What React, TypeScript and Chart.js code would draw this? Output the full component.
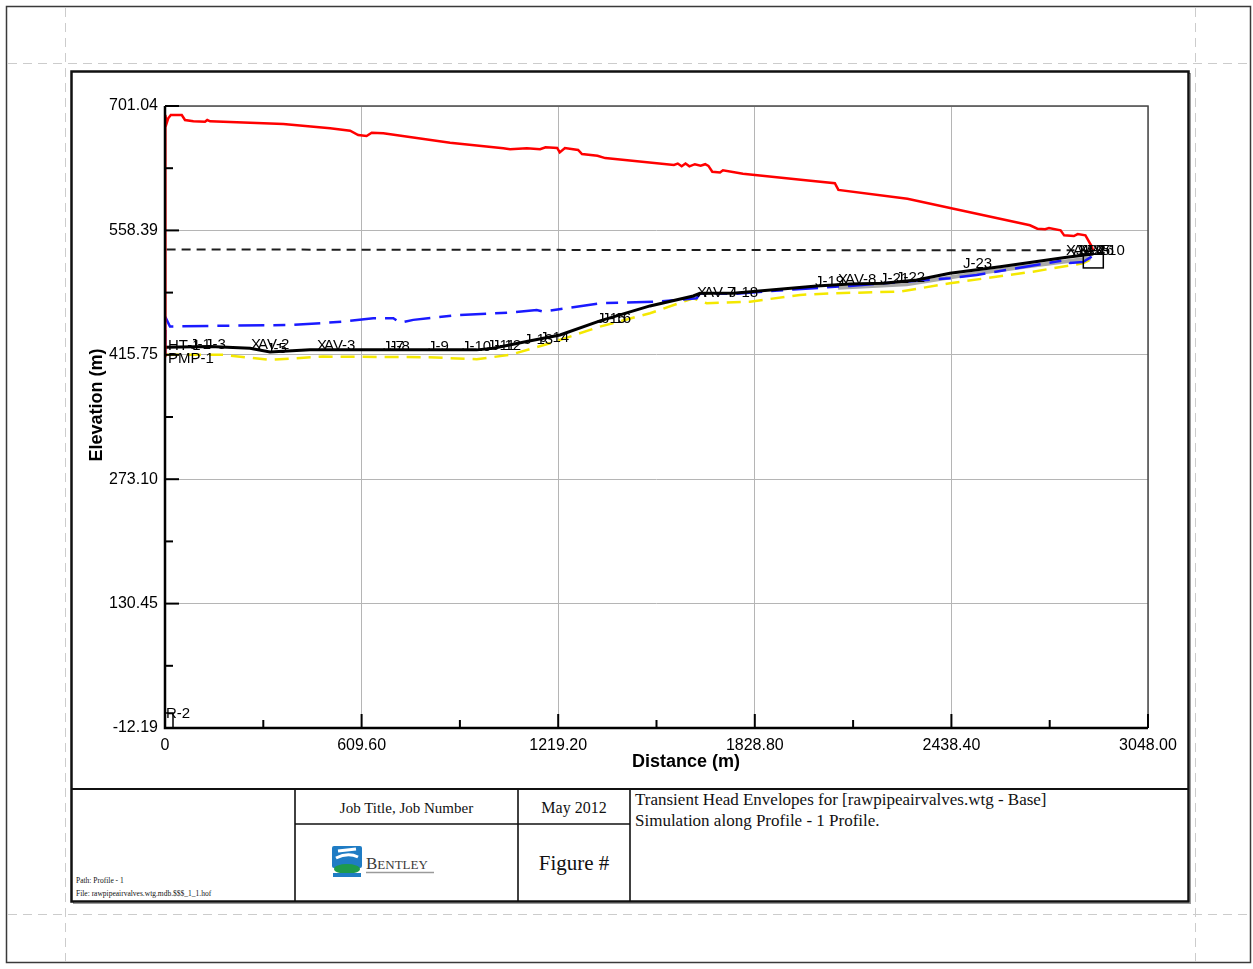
import React, { useEffect, useRef } from 'react';
import { Chart, registerables } from 'chart.js';

Chart.register(...registerables);

const SANS = '"Liberation Sans", Arial, Helvetica, sans-serif';
const SERIF = '"Liberation Serif", "Times New Roman", Times, serif';

// Axis ticks
const yTickValues = [-12.19, 130.45, 273.1, 415.75, 558.39, 701.04];
const yTickLabels = ['-12.19', '130.45', '273.10', '415.75', '558.39', '701.04'];
const xTickValues = [0, 609.6, 1219.2, 1828.8, 2438.4, 3048];
const xTickLabels = ['0', '609.60', '1219.20', '1828.80', '2438.40', '3048.00'];

// Maximum transient head (red)
const maxHeadDistance = [0, 1, 5, 10, 18, 52, 62, 88, 124, 131, 140, 367, 512, 574, 599, 625, 641, 677, 884, 1049, 1070, 1122, 1163, 1180, 1216, 1224, 1240, 1281, 1293, 1341, 1365, 1578, 1590, 1602, 1614, 1626, 1643, 1661, 1675, 1685, 1697, 1721, 1730, 1792, 1994, 2077, 2088, 2302, 2438, 2682, 2705, 2729, 2741, 2777, 2788, 2818, 2830, 2854, 2872, 2878];
const maxHeadValue = [414.5, 690.7, 681.2, 686.9, 690.7, 690.7, 685.0, 683.5, 683.0, 685.0, 683.5, 680.4, 675.5, 672.7, 667.8, 666.7, 670.4, 669.7, 659.0, 652.5, 651.4, 652.5, 651.4, 653.7, 652.9, 647.9, 652.9, 650.6, 645.9, 644.0, 641.3, 633.5, 635.0, 631.9, 635.0, 631.9, 634.3, 632.7, 634.3, 632.4, 625.7, 624.9, 627.3, 623.4, 615.6, 612.5, 604.8, 594.6, 583.8, 564.3, 560.4, 559.7, 561.2, 558.5, 552.7, 551.9, 554.2, 552.7, 541.0, 535.5];

// Pipe profile (black)
const profileDistance = [0, 46.5, 139.5, 263.6, 325.6, 449.6, 604.6, 966.5, 1018, 1121.5, 1224.8, 1348.8, 1503.8, 1638, 1658.9, 1762.1, 1824.1, 2020.7, 2124, 2227.2, 2330.8, 2434, 2589.1, 2795.9, 2878.4];
const profileElevation = [424.5, 424.8, 425.2, 423.3, 419.1, 421.4, 421.4, 421.4, 423.3, 430.9, 438.5, 454.6, 471.8, 483.2, 486.3, 486.3, 488.2, 494.7, 497.0, 497.8, 501.6, 509.3, 516.8, 527.6, 531.4];

// Minimum transient head (blue)
const minHeadDistance = [0, 1, 5.3, 15.5, 139.5, 397.8, 552.9, 645.9, 707.9, 728.7, 769.9, 914.7, 1069.7, 1152.5, 1173, 1348.8, 1524.6, 1648.6, 1658.9, 1762.1, 1947.2, 2124, 2361.8, 2434, 2516.8, 2795.9, 2806, 2846.4, 2873.4];
const minHeadValue = [414.5, 448.5, 455.8, 448.1, 448.9, 450.0, 453.8, 457.7, 457.7, 452.6, 455.8, 461.5, 464.1, 467.2, 465.2, 474.9, 476.7, 480.6, 486.3, 485.5, 490.7, 494.7, 501.6, 503.5, 507.3, 524.5, 521.1, 522.2, 528.3];

// Lower envelope (yellow)
const lowerDistance = [0, 5.3, 180.8, 325.6, 489.9, 811.4, 966.5, 1069.7, 1193.8, 1348.8, 1503.8, 1638, 1679.6, 1813.9, 1968.9, 2072.2, 2279, 2434, 2691.4, 2846.4, 2868];
const lowerValue = [415.7, 415.7, 415.7, 409.9, 413.7, 413.0, 410.7, 415.7, 429.0, 448.1, 463.4, 480.6, 474.9, 476.7, 484.4, 486.3, 488.2, 497.8, 511.1, 520.7, 524.5];

// Initial steady-state HGL (dashed black)
const initialDistance = [5, 2820];
const initialHead = [536.5, 535.5];

// Grey pipe shading along the last reach
const shadeDistance = [2087, 2300, 2500, 2700, 2870];
const shadeElevation = [492.5, 496.5, 508.5, 518.5, 526.5];

// Node labels along the profile
const nodeNames = ['HT-1', 'PMP-1', 'J-1', 'J-3', 'AV-2', 'J-5', 'AV-3', 'J-7', 'J-8', 'J-9', 'J-10', 'J-11', 'J-12', 'J-13', 'J-14', 'J-15', 'J-16', 'AV-7', 'J-18', 'J-19', 'AV-8', 'J-21', 'J-22', 'J-23', 'AV-9', 'J-24', 'J-25', 'J-26', 'AV-10', 'R-2'];
const nodeDistances = [9.3, 9.3, 77.5, 124, 266.7, 313.2, 471.3, 676, 694.6, 815.5, 920.9, 998.4, 1013.9, 1113.2, 1162.8, 1339.5, 1355, 1649.6, 1748.8, 2015.5, 2086.8, 2217, 2266.6, 2474.4, 2793.7, 2824.7, 2840.2, 2852.6, 2830.9, 3.1];
const nodeElevations = [421.4, 406.5, 422.5, 422.5, 422.5, 417.9, 421.4, 420.2, 420.2, 420.2, 420.2, 421.4, 421.4, 428.2, 430.5, 452.3, 452.3, 482.1, 482.1, 494.7, 497.0, 498.2, 499.3, 515.4, 530.0, 530.0, 530.0, 530.0, 530.0, -0.4];

function pairs(xs: number[], ys: number[]) {
  return xs.map((x, i) => ({ x, y: ys[i] }));
}

function labelFor(values: number[], labels: string[], v: number) {
  const i = values.findIndex((t) => Math.abs(t - v) < 1e-6);
  return i >= 0 ? labels[i] : '';
}

const profileDecor = {
  id: 'profileDecor',
  afterDraw(chart: any) {
    const { ctx, chartArea: a, scales } = chart;
    const xs = scales.x;
    const ys = scales.y;
    const seg = (x1: number, y1: number, x2: number, y2: number) => {
      ctx.beginPath();
      ctx.moveTo(x1, y1);
      ctx.lineTo(x2, y2);
      ctx.stroke();
    };
    ctx.save();

    // plot frame
    ctx.strokeStyle = '#4a4a4a';
    ctx.lineWidth = 1.5;
    ctx.beginPath();
    ctx.moveTo(a.left, a.top);
    ctx.lineTo(a.right, a.top);
    ctx.lineTo(a.right, a.bottom);
    ctx.stroke();

    ctx.strokeStyle = '#000';
    ctx.lineWidth = 2.5;
    ctx.beginPath();
    ctx.moveTo(a.left, a.top);
    ctx.lineTo(a.left, a.bottom);
    ctx.lineTo(a.right, a.bottom);
    ctx.stroke();

    // inward tick marks, major and minor
    ctx.lineWidth = 2;
    yTickValues.forEach((v, i) => {
      const py = ys.getPixelForValue(v);
      seg(a.left, py, a.left + 14, py);
      if (i < yTickValues.length - 1) {
        const pm = ys.getPixelForValue((v + yTickValues[i + 1]) / 2);
        seg(a.left, pm, a.left + 8, pm);
      }
    });
    xTickValues.forEach((v, i) => {
      const px = xs.getPixelForValue(v);
      seg(px, a.bottom, px, a.bottom - 14);
      if (i < xTickValues.length - 1) {
        const pm = xs.getPixelForValue((v + xTickValues[i + 1]) / 2);
        seg(pm, a.bottom, pm, a.bottom - 8);
      }
    });

    // axis titles
    ctx.fillStyle = '#000';
    ctx.font = `bold 18px ${SANS}`;
    ctx.textAlign = 'center';
    ctx.textBaseline = 'middle';
    ctx.fillText('Distance (m)', 614, 690);
    ctx.save();
    ctx.translate(25, 333);
    ctx.rotate(-Math.PI / 2);
    ctx.fillText('Elevation (m)', 0, 0);
    ctx.restore();

    // node labels
    ctx.font = `15px ${SANS}`;
    ctx.textAlign = 'left';
    ctx.textBaseline = 'alphabetic';
    nodeNames.forEach((name, i) => {
      const px = xs.getPixelForValue(nodeDistances[i]);
      const py = ys.getPixelForValue(nodeElevations[i]);
      if (name.startsWith('AV')) {
        ctx.fillText('X', px, py);
        ctx.fillText(name, px + 7, py);
      } else {
        ctx.fillText(name, px, py);
      }
    });

    // tank symbol at the downstream end
    ctx.lineWidth = 1.5;
    const endX = xs.getPixelForValue(profileDistance[profileDistance.length - 1]);
    const endY = ys.getPixelForValue(profileElevation[profileElevation.length - 1]);
    ctx.strokeRect(endX - 10, endY, 20, 14);

    // reservoir symbol at the start
    const resX = xs.getPixelForValue(0);
    ctx.strokeRect(resX, a.bottom - 15, 8, 15);

    ctx.restore();
  },
};

export default function App() {
  const canvasRef = useRef<HTMLCanvasElement>(null);

  useEffect(() => {
    const canvas = canvasRef.current;
    if (!canvas) return;
    const tickFont = { family: SANS, size: 16 };
    const chart = new Chart(canvas, {
      type: 'line',
      data: {
        datasets: [
          { label: 'Maximum Head', data: pairs(maxHeadDistance, maxHeadValue), borderColor: '#ff0000', borderWidth: 2.5 },
          { label: 'Elevation', data: pairs(profileDistance, profileElevation), borderColor: '#000000', borderWidth: 3 },
          { label: 'Minimum Head', data: pairs(minHeadDistance, minHeadValue), borderColor: '#1a1aff', borderWidth: 2.5, borderDash: [26, 9, 12, 9] },
          { label: 'Lower Envelope', data: pairs(lowerDistance, lowerValue), borderColor: '#f4e800', borderWidth: 2.5, borderDash: [14, 8] },
          { label: 'Initial HGL', data: pairs(initialDistance, initialHead), borderColor: '#1e1e1e', borderWidth: 2, borderDash: [9, 6] },
          { label: 'Pipe', data: pairs(shadeDistance, shadeElevation), borderColor: '#a9a9a9', borderWidth: 4 },
        ],
      },
      options: {
        responsive: false,
        animation: false,
        events: [],
        elements: { point: { radius: 0 }, line: { tension: 0, fill: false } },
        layout: { padding: { top: 34, right: 42, left: 0, bottom: 0 } },
        plugins: { legend: { display: false }, tooltip: { enabled: false }, title: { display: false } },
        scales: {
          x: {
            type: 'linear',
            min: 0,
            max: 3048,
            afterBuildTicks: (s: any) => {
              s.ticks = xTickValues.map((v) => ({ value: v }));
            },
            afterFit: (s: any) => {
              s.height = 60;
            },
            ticks: {
              autoSkip: false,
              maxRotation: 0,
              minRotation: 0,
              padding: 8,
              color: '#000',
              font: tickFont,
              callback: (v: any) => labelFor(xTickValues, xTickLabels, Number(v)),
            },
            grid: { color: '#b5b5b5', lineWidth: 1, drawTicks: false },
            border: { display: false },
          },
          y: {
            type: 'linear',
            min: -12.19,
            max: 701.04,
            afterBuildTicks: (s: any) => {
              s.ticks = yTickValues.map((v) => ({ value: v }));
            },
            afterFit: (s: any) => {
              s.width = 93;
            },
            ticks: {
              autoSkip: false,
              padding: 7,
              color: '#000',
              font: tickFont,
              callback: (v: any) => labelFor(yTickValues, yTickLabels, Number(v)),
            },
            grid: { color: '#b5b5b5', lineWidth: 1, drawTicks: false },
            border: { display: false },
          },
        },
      },
      plugins: [profileDecor],
    } as any);
    return () => chart.destroy();
  }, []);

  return (
    <div style={{ position: 'absolute', left: 0, top: 0, width: 1253, height: 969, background: '#fff', overflow: 'hidden' }}>
      <svg width={1253} height={969} style={{ position: 'absolute', left: 0, top: 0 }}>
        {/* sheet border and trim guides */}
        <rect x={6.5} y={6.5} width={1244} height={956} fill="none" stroke="#3a3a3a" strokeWidth={1.5} />
        <line x1={65.5} y1={8} x2={65.5} y2={962} stroke="#cccccc" strokeWidth={1} strokeDasharray="9 6" />
        <line x1={1195.5} y1={8} x2={1195.5} y2={962} stroke="#cccccc" strokeWidth={1} strokeDasharray="9 6" />
        <line x1={8} y1={63.5} x2={1250} y2={63.5} stroke="#cccccc" strokeWidth={1} strokeDasharray="9 6" />
        <line x1={8} y1={914.5} x2={1250} y2={914.5} stroke="#cccccc" strokeWidth={1} strokeDasharray="9 6" />

        {/* drawing frame */}
        <rect x={73.5} y={73.5} width={1117} height={830} fill="none" stroke="#9a9a9a" strokeWidth={1} />
        <rect x={71.5} y={71.5} width={1117} height={830} fill="#fff" stroke="#111" strokeWidth={2.5} />

        {/* title block */}
        <line x1={72} y1={789} x2={1189} y2={789} stroke="#111" strokeWidth={2} />
        <line x1={295} y1={789} x2={295} y2={902} stroke="#111" strokeWidth={1.6} />
        <line x1={518} y1={789} x2={518} y2={902} stroke="#111" strokeWidth={1.6} />
        <line x1={630} y1={789} x2={630} y2={902} stroke="#111" strokeWidth={1.6} />
        <line x1={295} y1={824} x2={630} y2={824} stroke="#111" strokeWidth={1.6} />

        <text x={406.5} y={813} textAnchor="middle" fontFamily={SERIF} fontSize={15} fill="#111">Job Title, Job Number</text>
        <text x={574} y={813} textAnchor="middle" fontFamily={SERIF} fontSize={16} fill="#111">May 2012</text>
        <text x={574} y={870} textAnchor="middle" fontFamily={SERIF} fontSize={21} fill="#111">Figure #</text>
        <text x={635} y={805} fontFamily={SERIF} fontSize={17} fill="#111">Transient Head Envelopes for [rawpipeairvalves.wtg - Base]</text>
        <text x={635} y={826} fontFamily={SERIF} fontSize={17} fill="#111">Simulation along Profile - 1 Profile.</text>
        <text x={76} y={883} fontFamily={SERIF} fontSize={7.5} fill="#111">Path: Profile - 1</text>
        <text x={76} y={896} fontFamily={SERIF} fontSize={7.5} fill="#111">File: rawpipeairvalves.wtg.mdb.$$$_1_1.hof</text>

        {/* Bentley logo */}
        <g>
          <rect x={332} y={846} width={30} height={22} rx={2} fill="#1f7cc4" />
          <path d="M338 851 L356 849" stroke="#fff" strokeWidth={3} fill="none" />
          <path d="M336 858 Q348 852 358 857" stroke="#fff" strokeWidth={3} fill="none" />
          <ellipse cx={347} cy={869} rx={13} ry={5} fill="#1e9a4b" />
          <rect x={333} y={873} width={28} height={4} fill="#1f7cc4" />
          <text x={366} y={869} fontFamily={SERIF} fill="#3a3a3a">
            <tspan fontSize={17}>B</tspan>
            <tspan fontSize={13}>ENTLEY</tspan>
          </text>
          <line x1={366} y1={872.5} x2={434} y2={872.5} stroke="#9a9a9a" strokeWidth={1.5} />
        </g>
      </svg>
      <canvas
        ref={canvasRef}
        width={1118}
        height={716}
        style={{ position: 'absolute', left: 72, top: 72, width: 1118, height: 716 }}
      />
    </div>
  );
}
